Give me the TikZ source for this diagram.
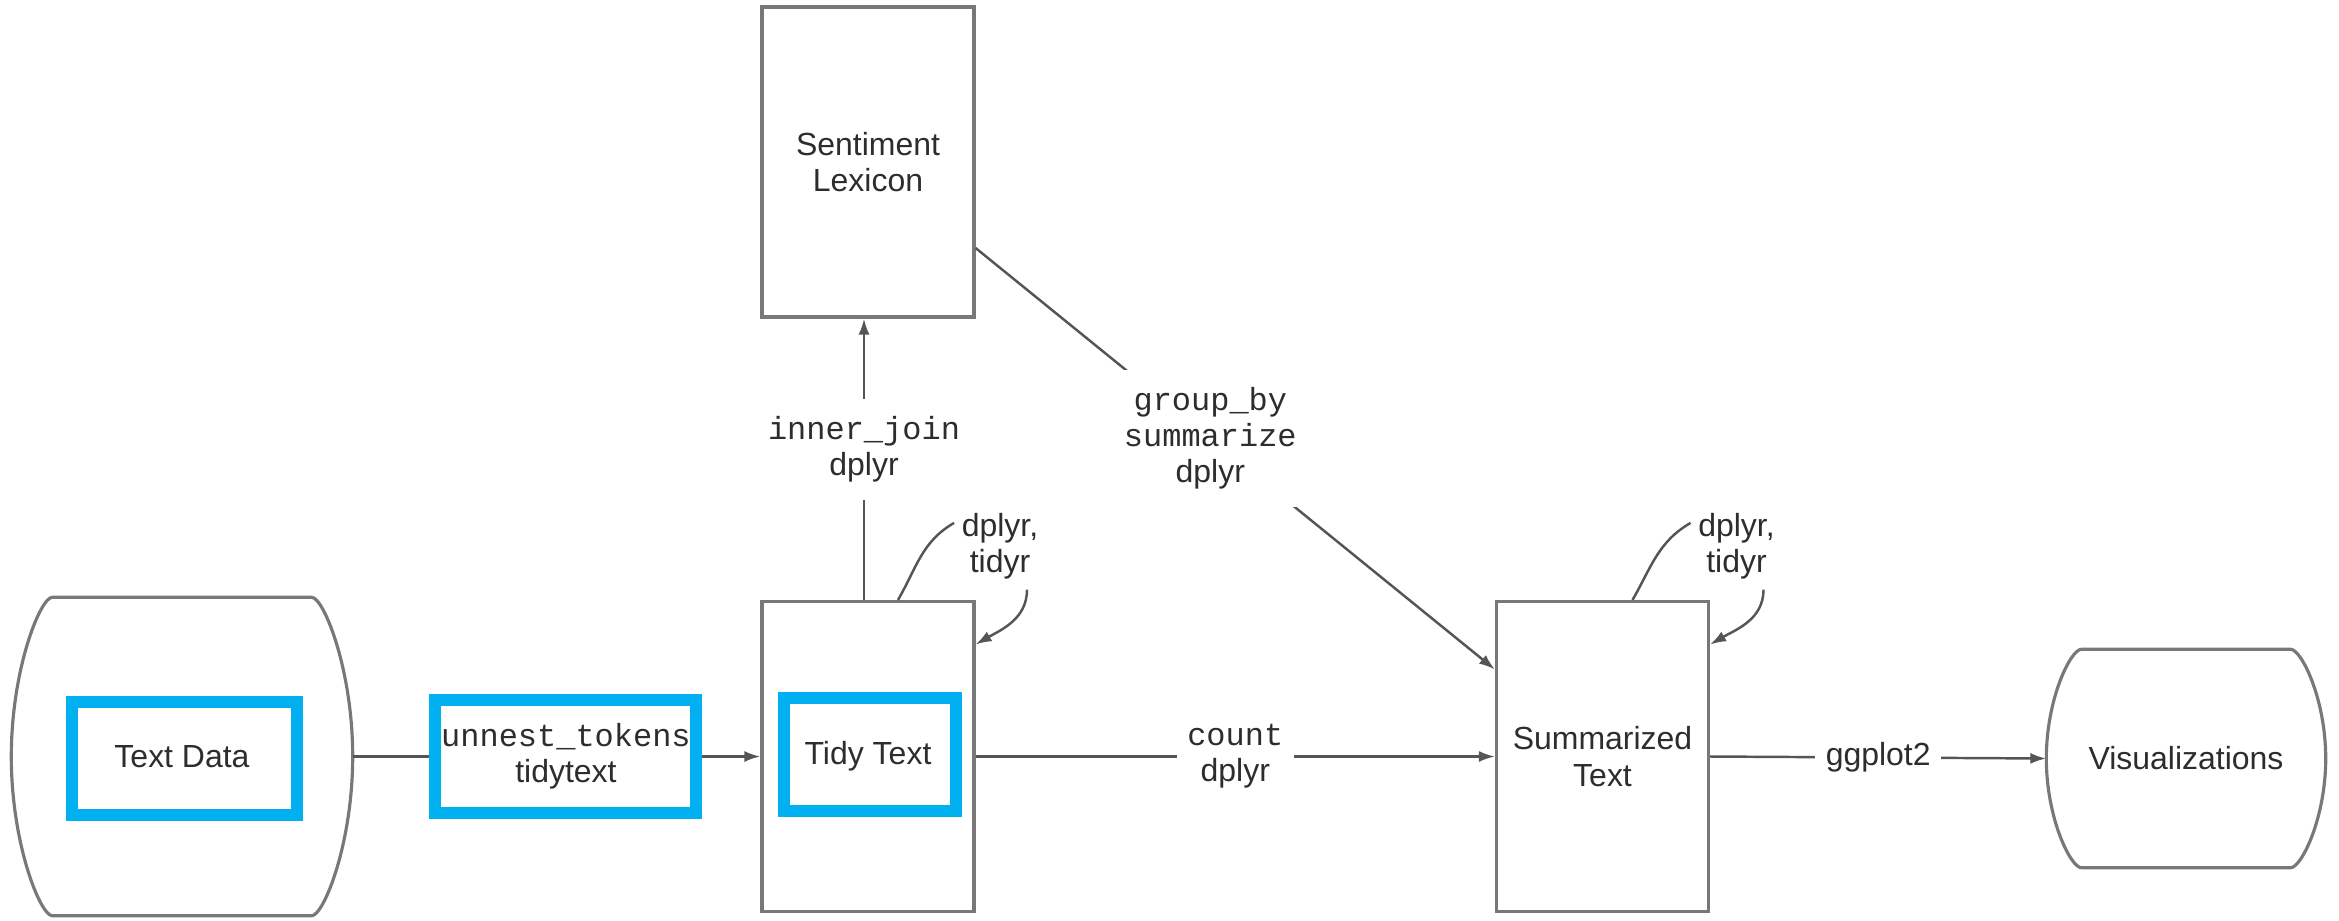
\documentclass[tikz,border=0pt]{standalone}
\usepackage{fontspec}
\setmainfont{Liberation Sans}
\setmonofont{Liberation Mono}
\usetikzlibrary{arrows.meta,positioning}
\definecolor{hlblue}{RGB}{0,176,240}
\definecolor{edgegray}{RGB}{85,85,85}
\definecolor{boxgray}{RGB}{120,120,120}
\definecolor{txtgray}{RGB}{45,45,45}
\tikzset{
    box/.style       = {rectangle, draw=boxgray, line width=0.9pt, minimum width=2.12cm,
                        minimum height=3.10cm, align=center, inner sep=0pt},
    datastore/.style = {rectangle, draw=none, align=center, inner sep=0pt},
    outline/.style   = {draw=boxgray, line width=0.9pt},
    line/.style      = {-{Latex[length=1.6mm,width=1.1mm]}, line width=0.7pt, draw=edgegray},
    hlframe/.style   = {rectangle, draw=hlblue, line width=3.4pt, minimum height=1.13cm, inner sep=0pt},
    edgelabel/.style = {fill=white, align=center, inner xsep=3pt, inner ysep=5pt},
    looplabel/.style = {align=center, inner sep=2pt}
}

\begin{document}
\begin{tikzpicture}[
        every node/.style={font=\fontsize{9.1}{10.3}\selectfont, text=txtgray}
    ]
    \useasboundingbox (0,0) rectangle (23.39,9.20);

    % --- Stores ---
    \node[datastore, minimum width=3.40cm, minimum height=3.17cm] (textdata) at (1.82, 1.635) {Text Data};
    \draw[outline] ([xshift=0.41cm]textdata.north west) -- ([xshift=-0.41cm]textdata.north east)
        .. controls ([xshift=-0.29cm]textdata.north east) and ([yshift=0.87cm]textdata.east) .. (textdata.east)
        .. controls ([yshift=-0.87cm]textdata.east) and ([xshift=-0.29cm]textdata.south east) .. ([xshift=-0.41cm]textdata.south east)
        -- ([xshift=0.41cm]textdata.south west)
        .. controls ([xshift=0.29cm]textdata.south west) and ([yshift=-0.87cm]textdata.west) .. (textdata.west)
        .. controls ([yshift=0.87cm]textdata.west) and ([xshift=0.29cm]textdata.north west) .. cycle;

    \node[datastore, minimum width=2.78cm, minimum height=2.17cm] (vis) at (21.86, 1.615) {Visualizations};
    \draw[outline] ([xshift=0.35cm]vis.north west) -- ([xshift=-0.35cm]vis.north east)
        .. controls ([xshift=-0.245cm]vis.north east) and ([yshift=0.6cm]vis.east) .. (vis.east)
        .. controls ([yshift=-0.6cm]vis.east) and ([xshift=-0.245cm]vis.south east) .. ([xshift=-0.35cm]vis.south east)
        -- ([xshift=0.35cm]vis.south west)
        .. controls ([xshift=0.245cm]vis.south west) and ([yshift=-0.6cm]vis.west) .. (vis.west)
        .. controls ([yshift=0.6cm]vis.west) and ([xshift=0.245cm]vis.north west) .. cycle;

    % --- Boxes ---
    \node[box] (lexicon) at (8.68, 7.58) {Sentiment\\Lexicon};
    \node[box] (tidy) at (8.68, 1.635) {Tidy Text};
    \node[box] (summ) at (16.025, 1.635) {Summarized\\Text};

    % --- Highlights ---
    \node[hlframe, minimum width=2.25cm] (hltextdata) at (1.845, 1.615) {};
    \node[hlframe, minimum width=1.72cm] (hltidy) at (8.70, 1.655) {};

    % --- Connections ---
    \draw[line] (textdata.east) -- (tidy.west)
        node[pos=0.523, hlframe, fill=white, minimum width=2.61cm, align=center] (hlunnest) {\texttt{unnest\_tokens}\\tidytext};
    \draw[line] ([xshift=-0.04cm]tidy.north) -- ([xshift=-0.04cm]lexicon.south)
        node[pos=0.535, edgelabel] {\texttt{inner\_join}\\dplyr};
    \draw[line] ([yshift=-0.86cm]lexicon.east) -- ([yshift=0.87cm]summ.west)
        node[pos=0.452, edgelabel] {\texttt{group\_by}\\\texttt{summarize}\\dplyr};
    \draw[line] (tidy.east) -- (summ.west) node[midway, edgelabel] {\texttt{count}\\dplyr};
    \draw[line] (summ.east) -- (vis.west) node[midway, edgelabel] {ggplot2};

    % Self loops
    \node[looplabel] (tidyloop) at ([xshift=1.32cm, yshift=0.54cm]tidy.north) {dplyr,\\tidyr};
    \node[looplabel] (summloop) at ([xshift=1.34cm, yshift=0.54cm]summ.north) {dplyr,\\tidyr};
    \draw[line] ([xshift=0.30cm]tidy.north) to[out=60, in=210] ([yshift=0.23cm]tidyloop.west)
        ([xshift=0.27cm, yshift=-0.03cm]tidyloop.south) to[out=-90, in=30] ([yshift=1.12cm]tidy.east);
    \draw[line] ([xshift=0.30cm]summ.north) to[out=60, in=210] ([yshift=0.23cm]summloop.west)
        ([xshift=0.27cm, yshift=-0.03cm]summloop.south) to[out=-90, in=30] ([yshift=1.12cm]summ.east);
\end{tikzpicture}
\end{document}
